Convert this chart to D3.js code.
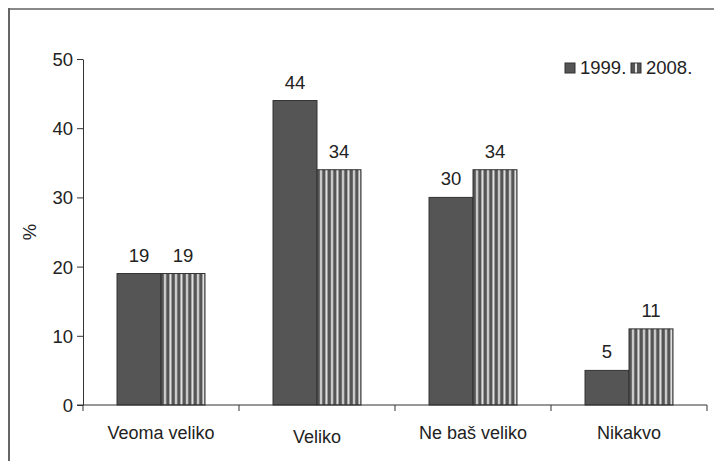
<!DOCTYPE html>
<html>
<head>
<meta charset="utf-8">
<script src="https://cdn.jsdelivr.net/npm/d3@7"></script>
<style>
  body { margin: 0; background: #fff; }
  svg text { font-family: "Liberation Sans", Arial, sans-serif; fill: #222; }
  .axis path, .axis line { stroke: #333; }
</style>
</head>
<body>
<div id="chartArea"></div>
<script>
// data
let categories = ['Veoma veliko', 'Veliko', 'Ne baš veliko', 'Nikakvo'];
let seriesNames = ['1999.', '2008.'];
let values1999 = [19, 44, 30, 5];
let values2008 = [19, 34, 34, 11];
let yTicks = [0, 10, 20, 30, 40, 50];

let width = 714, height = 461;
let margins = { top: 59, right: 7, bottom: 56, left: 83 };
let plotW = width - margins.left - margins.right,
    plotH = height - margins.top - margins.bottom;
let fontSize = '18.5px';

let svg = d3.select('#chartArea')
    .append('svg')
        .attr('width', width)
        .attr('height', height);

// hatch pattern for 2008
let defs = svg.append('defs');
let pat = defs.append('pattern')
    .attr('id', 'hatch')
    .attr('patternUnits', 'userSpaceOnUse')
    .attr('width', 5.5)
    .attr('height', 10);
pat.append('rect').attr('width', 5.5).attr('height', 10).attr('fill', '#555');
pat.append('rect').attr('x', 3).attr('width', 2).attr('height', 10).attr('fill', '#e6e6e6');

// frame (top and left visible)
svg.append('line')
    .attr('x1', 8).attr('x2', width).attr('y1', 9).attr('y2', 9)
    .attr('stroke', '#888').attr('stroke-width', 2);
svg.append('line')
    .attr('x1', 9).attr('x2', 9).attr('y1', 8).attr('y2', height)
    .attr('stroke', '#666').attr('stroke-width', 2);

let chart = svg.append('g')
    .attr('transform', 'translate(' + margins.left + ',' + margins.top + ')');

let xScale = d3.scaleBand()
    .domain(categories)
    .range([0, plotW])
    .paddingInner(0.436)
    .paddingOuter(0.218);

let xSub = d3.scaleBand()
    .domain(seriesNames)
    .range([0, xScale.bandwidth()]);

let yScale = d3.scaleLinear()
    .domain([0, 50])
    .range([plotH, 0]);

let rows = categories.map((c, i) => ({
    cat: c,
    vals: [
        { s: seriesNames[0], v: values1999[i] },
        { s: seriesNames[1], v: values2008[i] }
    ]
}));

let groups = chart.selectAll('.group')
    .data(rows)
    .enter().append('g')
        .attr('class', 'group')
        .attr('transform', d => 'translate(' + xScale(d.cat) + ',0)');

groups.selectAll('rect')
    .data(d => d.vals)
    .enter().append('rect')
        .attr('x', d => xSub(d.s))
        .attr('y', d => yScale(d.v))
        .attr('width', xSub.bandwidth())
        .attr('height', d => plotH - yScale(d.v))
        .attr('fill', d => d.s === seriesNames[0] ? '#555555' : 'url(#hatch)')
        .attr('stroke', '#333')
        .attr('stroke-width', 1);

groups.selectAll('.val')
    .data(d => d.vals)
    .enter().append('text')
        .attr('class', 'val')
        .attr('x', d => xSub(d.s) + xSub.bandwidth() / 2)
        .attr('y', d => yScale(d.v) - 12)
        .attr('text-anchor', 'middle')
        .style('font-size', fontSize)
        .text(d => d.v);

// axes
let yAxis = chart.append('g')
    .attr('class', 'y axis')
    .call(d3.axisLeft(yScale).tickValues(yTicks).tickSize(6).tickSizeOuter(0));
yAxis.selectAll('text').style('font-size', fontSize).attr('x', -10).attr('dy', '0.35em');

// x axis: ticks at category boundaries
let xAxis = chart.append('g')
    .attr('class', 'x axis')
    .attr('transform', 'translate(0,' + plotH + ')');
xAxis.append('line')
    .attr('x1', -6).attr('x2', plotW)
    .attr('stroke', '#333');
let bounds = categories.map(c => xScale(c) - xScale.step() * xScale.paddingInner() / 2).concat([plotW]);
xAxis.selectAll('.tk')
    .data(bounds)
    .enter().append('line')
        .attr('class', 'tk')
        .attr('x1', d => d).attr('x2', d => d)
        .attr('y1', 0).attr('y2', 6)
        .attr('stroke', '#333');
xAxis.selectAll('.lbl')
    .data(categories)
    .enter().append('text')
        .attr('class', 'lbl')
        .attr('x', d => xScale(d) + xScale.bandwidth() / 2)
        .attr('y', (d, i) => i === 1 ? 38 : 34)
        .attr('text-anchor', 'middle')
        .style('font-size', '18px')
        .text(d => d);

// y label
svg.append('text')
    .attr('transform', 'translate(36,232) rotate(-90)')
    .attr('text-anchor', 'middle')
    .style('font-size', fontSize)
    .text('%');

// legend
let legend = svg.append('g').attr('transform', 'translate(565,63)');
let legX = [0, 66];
seriesNames.forEach((s, i) => {
    let g = legend.append('g').attr('transform', 'translate(' + legX[i] + ',0)');
    g.append('rect')
        .attr('width', 10).attr('height', 10)
        .attr('fill', '#555555')
        .attr('stroke', '#333');
    if (i === 1) {
        g.append('rect').attr('x', 4).attr('y', 0.5).attr('width', 2).attr('height', 9).attr('fill', '#e6e6e6');
    }
    g.append('text')
        .attr('x', 15).attr('y', 11)
        .style('font-size', fontSize)
        .text(s);
});
</script>
</body>
</html>
